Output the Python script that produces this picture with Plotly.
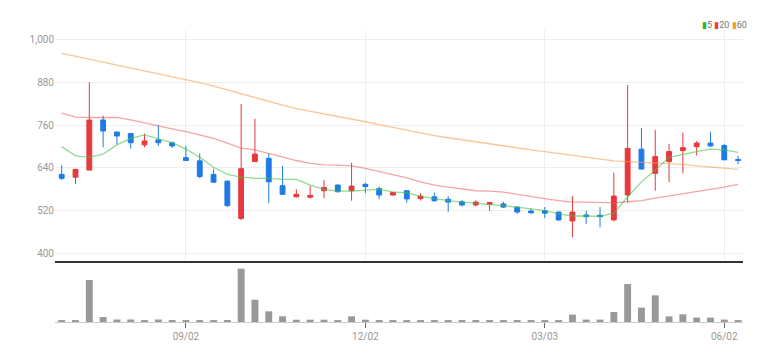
import plotly.graph_objects as go
import pandas as pd

# ---- data (weekly) ----
dates = pd.date_range("2020-07-01", periods=50, freq="7D")

opens  = [622, 614, 634, 775, 741, 737, 705, 719, 711, 669,
          660, 622, 603, 498, 658, 667, 590, 559, 558, 576,
          592, 576, 594, 582, 564, 576, 554, 559, 552, 545,
          536, 538, 539, 530, 519, 520, 516, 491, 508, 507,
          494, 564, 693, 625, 658, 689, 700, 710, 703, 664]
highs  = [648, 638, 881, 787, 742, 738, 737, 761, 714, 702,
          681, 638, 606, 820, 778, 681, 646, 580, 589, 606,
          594, 655, 599, 588, 572, 577, 569, 571, 561, 550,
          549, 544, 545, 531, 526, 530, 517, 561, 520, 530,
          627, 873, 752, 747, 708, 740, 716, 742, 708, 674]
lows   = [606, 595, 634, 698, 707, 694, 698, 702, 696, 660,
          611, 599, 531, 493, 657, 541, 565, 557, 554, 555,
          572, 548, 569, 552, 562, 542, 548, 545, 517, 531,
          532, 519, 527, 511, 511, 499, 492, 445, 483, 473,
          490, 543, 636, 576, 600, 625, 675, 700, 662, 651]
closes = [611, 636, 775, 744, 730, 711, 716, 711, 702, 661,
          616, 600, 534, 638, 679, 601, 566, 566, 563, 585,
          573, 589, 588, 564, 571, 553, 561, 548, 544, 536,
          544, 543, 530, 516, 514, 513, 494, 516, 503, 503,
          561, 695, 637, 672, 686, 697, 710, 702, 663, 661]

ma5  = [700, 674, 670, 679, 705, 723, 733, 723, 711, 693,
        670, 642, 622, 614, 611, 611, 608, 608, 592, 580,
        575, 575, 578, 580, 573, 570, 560, 553, 548, 544,
        541, 538, 534, 530, 525, 520, 511, 505, 505, 504,
        513, 559, 601, 634, 670, 679, 686, 693, 691, 684]
ma20 = [794, 783, 782, 783, 782, 775, 766, 758, 750, 742,
        733, 723, 710, 696, 691, 681, 669, 661, 653, 649,
        648, 646, 639, 630, 623, 612, 601, 592, 586, 580,
        576, 575, 572, 566, 559, 554, 548, 544, 544, 542,
        542, 545, 548, 555, 561, 569, 573, 580, 586, 594]
ma60 = [962, 954, 946, 938, 930, 922, 914, 906, 898, 890,
        880, 870, 859, 849, 838, 828, 817, 807, 800, 792,
        785, 777, 770, 762, 754, 746, 739, 731, 725, 719,
        713, 707, 702, 696, 691, 686, 681, 675, 670, 665,
        660, 658, 656, 655, 653, 650, 646, 643, 640, 636]

volume = [30000, 30000, 840000, 100000, 50000, 50000, 30000, 50000, 30000, 30000,
          30000, 30000, 40000, 1068000, 446000, 214000, 114000, 46000, 46000, 46000,
          30000, 114000, 46000, 30000, 30000, 30000, 30000, 30000, 30000, 30000,
          30000, 30000, 30000, 30000, 30000, 30000, 30000, 148000, 48000, 48000,
          200000, 760000, 288000, 534000, 114000, 154000, 88000, 88000, 48000, 30000]

price_ticks = [400, 520, 640, 760, 880, 1000]
price_labels = ["400", "520", "640", "760", "880", "1,000"]
date_ticks = ["2020-09-02", "2020-12-02", "2021-03-03", "2021-06-02"]
date_labels = ["09/02", "12/02", "03/03", "06/02"]

RED = "#e8383d"
BLUE = "#1f7ae6"
FONT = "Liberation Sans Narrow, Roboto, Arial, sans-serif"

fig = go.Figure()
fig.add_trace(go.Candlestick(
    x=dates, open=opens, high=highs, low=lows, close=closes,
    increasing=dict(line=dict(color=RED, width=1), fillcolor=RED),
    decreasing=dict(line=dict(color=BLUE, width=1), fillcolor=BLUE),
    whiskerwidth=0, showlegend=False, xaxis="x", yaxis="y"))

for vals, col in [(ma60, "rgba(245,160,80,0.6)"),
                  (ma20, "rgba(240,90,90,0.55)"),
                  (ma5, "rgba(70,195,70,0.6)")]:
    fig.add_trace(go.Scatter(x=dates, y=vals, mode="lines",
                             line=dict(color=col, width=1.3),
                             showlegend=False, hoverinfo="skip",
                             xaxis="x", yaxis="y"))

fig.add_trace(go.Bar(x=dates, y=volume, marker=dict(color="#999999", line_width=0),
                     showlegend=False, xaxis="x2", yaxis="y2"))

xr = [dates[0] - pd.Timedelta(days=3.4), dates[-1] + pd.Timedelta(days=2.5)]

fig.update_layout(
    width=781, height=362,
    margin=dict(l=55, r=38, t=30, b=40),
    paper_bgcolor="white", plot_bgcolor="white",
    boxgap=0.5, bargap=0.5,
    font=dict(family=FONT, size=10, color="#999999"),
    xaxis=dict(domain=[0, 1], anchor="y", range=xr, type="date",
               tickvals=date_ticks, showticklabels=False,
               showgrid=True, gridcolor="#eeeeee", gridwidth=1,
               showline=True, linecolor="#333333", linewidth=2,
               ticks="", rangeslider=dict(visible=False), zeroline=False),
    xaxis2=dict(domain=[0, 1], anchor="y2", matches="x", type="date",
                tickvals=date_ticks, ticktext=date_labels,
                ticks="outside", ticklen=5, tickcolor="#666666",
                showgrid=False, showline=True, linecolor="#cccccc", linewidth=1,
                tickfont=dict(family=FONT, size=10, color="#999999")),
    yaxis=dict(domain=[0.209, 1], range=[378.5, 1028],
               tickvals=price_ticks, ticktext=price_labels,
               showgrid=True, gridcolor="#eeeeee", zeroline=False,
               showline=False, ticks="",
               tickfont=dict(family=FONT, size=10, color="#999999")),
    yaxis2=dict(domain=[0, 0.195], range=[0, 1140000], visible=False),
    annotations=[dict(
        xref="paper", yref="paper", x=1, y=1, xanchor="right", yanchor="middle",
        xshift=6, yshift=5, showarrow=False,
        text="<span style='color:#2bb52b'>▮</span>5 "
             "<span style='color:#ee3b3b'>▮</span>20 "
             "<span style='color:#f0a030'>▮</span>60",
        font=dict(family=FONT, size=9, color="#777777"))],
)

fig.write_html("out.html")
